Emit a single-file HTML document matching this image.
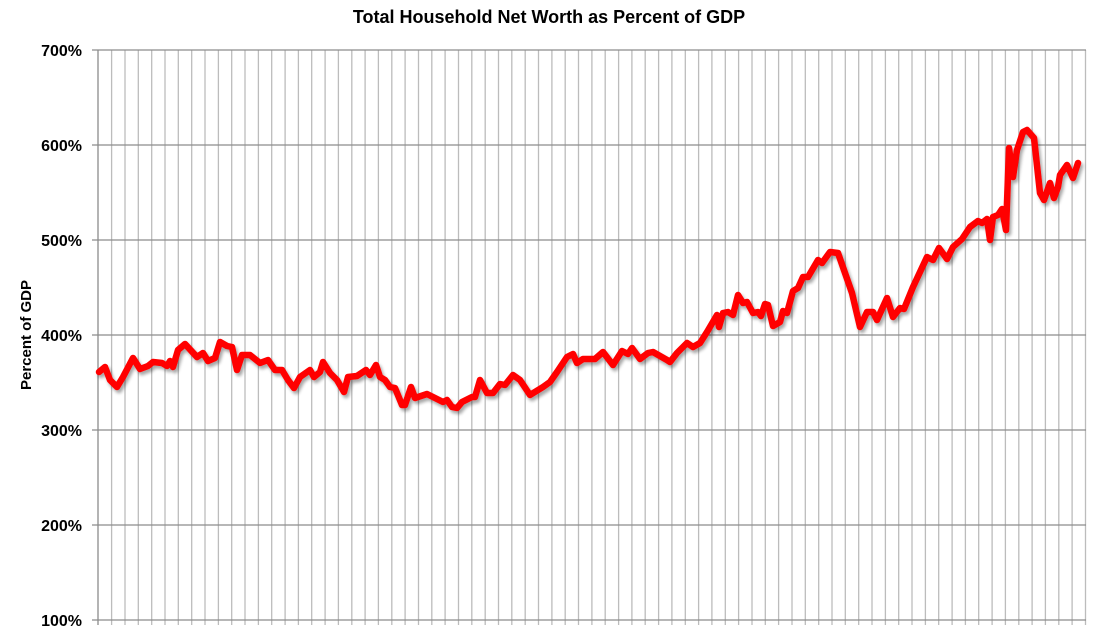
<!DOCTYPE html>
<html><head><meta charset="utf-8"><style>
body{margin:0;background:#fff;}
svg{display:block;font-family:"Liberation Sans",sans-serif;}
</style></head><body>
<svg width="1097" height="630" viewBox="0 0 1097 630">
<defs><filter id="sh" x="-5%" y="-5%" width="110%" height="120%"><feGaussianBlur in="SourceAlpha" stdDeviation="1.5"/><feOffset dx="2" dy="3"/><feComponentTransfer><feFuncA type="linear" slope="0.35"/></feComponentTransfer><feMerge><feMergeNode/><feMergeNode in="SourceGraphic"/></feMerge></filter></defs>
<text x="549" y="23" text-anchor="middle" font-size="18" font-weight="bold">Total Household Net Worth as Percent of GDP</text>
<text transform="translate(31,335) rotate(-90)" text-anchor="middle" font-size="15" font-weight="bold">Percent of GDP</text>
<g id="vg" stroke="#bcbcbc" stroke-width="1.3"></g>
<g stroke="#8c8c8c" stroke-width="1.3">
<line x1="92" y1="50" x2="1086" y2="50"/><line x1="92" y1="145" x2="1086" y2="145"/><line x1="92" y1="240" x2="1086" y2="240"/><line x1="92" y1="335" x2="1086" y2="335"/><line x1="92" y1="430" x2="1086" y2="430"/><line x1="92" y1="525" x2="1086" y2="525"/><line x1="92" y1="620" x2="1086" y2="620"/>
<line x1="98" y1="50" x2="98" y2="625"/>
</g>
<g font-size="16" font-weight="bold" text-anchor="end">
<text x="82" y="56">700%</text><text x="82" y="151">600%</text><text x="82" y="246">500%</text><text x="82" y="341">400%</text><text x="82" y="436">300%</text><text x="82" y="531">200%</text><text x="82" y="626">100%</text>
</g>
<polyline filter="url(#sh)" fill="none" stroke="#ff0000" stroke-width="6.5" stroke-linejoin="round" stroke-linecap="round" points="99,372 105,367 110,380 117,387 123,377 133,358 140,369 148,366 153,362 162,363 167,366 170,361 173,367 178,350 185,344 197,357 203,353 208,361 215,358 220,342 227,346 232,347 237,370 242,355 250,355 260,363 268,360 275,370 282,370 288,380 294,388 300,377 310,370 314,377 320,372 323,362 330,373 337,380 344,392 348,377 357,376 366,370 370,375 376,365 380,377 385,380 390,387 395,388 402,405 405,405 411,387 415,398 427,394 433,397 443,402 447,400 452,407 457,408 462,402 472,397 475,397 480,380 487,393 493,393 500,384 505,385 513,375 520,380 530,395 543,387 550,382 557,372 567,357 573,354 577,363 583,359 595,359 603,352 613,365 622,351 628,354 632,348 640,359 648,353 653,352 667,360 670,362 677,353 687,343 693,347 700,343 707,332 717,315 719,327 723,313 728,312 733,315 738,295 743,303 747,302 753,313 758,312 761,316 765,304 768,305 773,326 780,322 783,311 787,313 793,291 798,288 803,277 808,277 818,260 822,263 830,252 838,253 852,293 860,327 867,312 873,312 877,320 887,298 893,317 900,308 904,309 913,287 927,257 933,260 939,248 947,259 953,247 962,239 970,227 978,221 982,223 987,219 990,240 993,217 998,215 1002,209 1006,230 1009,148 1013,177 1017,150 1023,132 1027,130 1034,138 1040,193 1044,200 1050,183 1054,198 1058,187 1060,175 1067,165 1073,178 1078,163"/>
</svg>
<script>
var g=document.getElementById('vg'),s='';
for(var i=1;i<=74;i++){var x=(98.3+i*13.34).toFixed(1);s+='<line x1="'+x+'" y1="50" x2="'+x+'" y2="625"/>';}
g.innerHTML=s;
</script>
</body></html>
